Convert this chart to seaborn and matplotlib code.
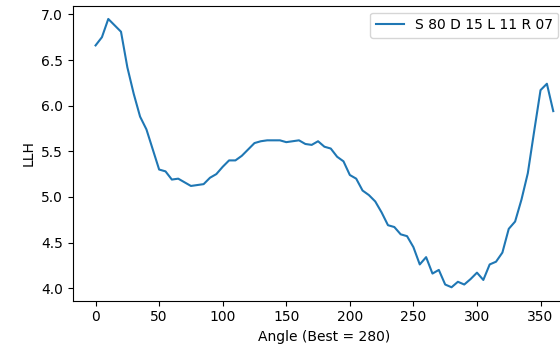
import matplotlib
matplotlib.use("Agg")
import matplotlib.pyplot as plt
import seaborn as sns
import pandas as pd

angles = list(range(0, 365, 5))
llh = [6.66, 6.75, 6.95, 6.88, 6.81, 6.42, 6.13, 5.88, 5.74, 5.52,
       5.30, 5.28, 5.19, 5.20, 5.16, 5.12, 5.13, 5.14, 5.21, 5.25,
       5.33, 5.40, 5.40, 5.45, 5.52, 5.59, 5.61, 5.62, 5.62, 5.62,
       5.60, 5.61, 5.62, 5.58, 5.57, 5.61, 5.55, 5.53, 5.44, 5.39,
       5.24, 5.20, 5.07, 5.02, 4.95, 4.83, 4.69, 4.67, 4.59, 4.57,
       4.45, 4.26, 4.34, 4.16, 4.20, 4.04, 4.01, 4.07, 4.04, 4.10,
       4.17, 4.09, 4.26, 4.29, 4.39, 4.65, 4.73, 4.97, 5.26, 5.72,
       6.17, 6.24, 5.94]
series_label = "S 80 D 15 L 11 R 07"
x_label = "Angle (Best = 280)"
y_label = "LLH"

df = pd.DataFrame({"angle": angles, "llh": llh})

fig = plt.figure(figsize=(5.6, 3.46), dpi=100)
ax = fig.add_axes([0.1298, 0.131, 0.899, 0.853])
sns.lineplot(data=df, x="angle", y="llh", ax=ax, color="#1f77b4",
             linewidth=1.5, label=series_label)
ax.set_xlabel(x_label)
ax.set_ylabel(y_label)
ax.set_xticks([0, 50, 100, 150, 200, 250, 300, 350])
ax.set_yticks([4.0, 4.5, 5.0, 5.5, 6.0, 6.5, 7.0])
ax.legend(loc="upper right", bbox_to_anchor=(0.997, 1 - 12.5 / 346),
          bbox_transform=fig.transFigure, borderaxespad=0)
fig.savefig("out.png", dpi=100)
